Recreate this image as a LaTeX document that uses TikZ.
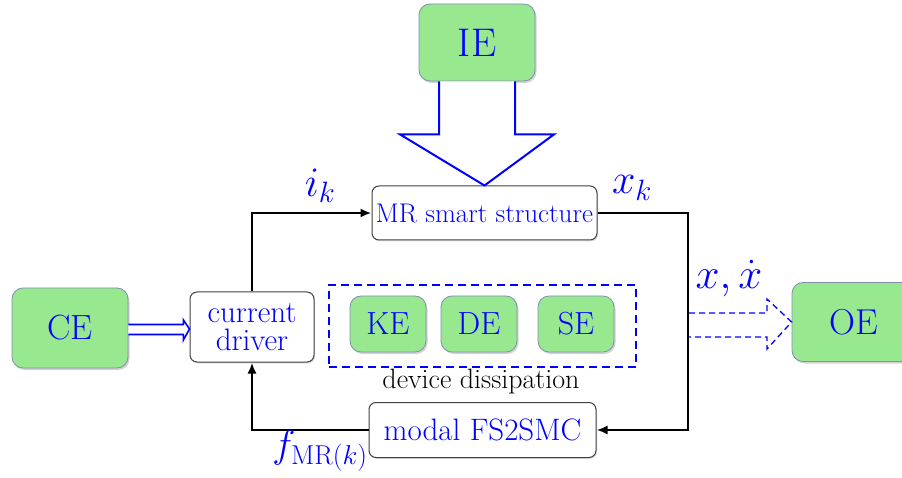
\RequirePackage{fix-cm}
\documentclass[tikz,border=0pt]{standalone}
\usepackage{fontspec}
\usetikzlibrary{shadows,arrows.meta,calc}
\definecolor{boxgreen}{RGB}{152,232,144}
\definecolor{boxedge}{RGB}{128,144,176}
\tikzset{
  energy/.style={draw=boxedge, fill=boxgreen, rounded corners=11pt, line width=0.8pt,
    drop shadow={shadow xshift=1.5pt, shadow yshift=-2pt, opacity=0.35},
    text=blue, font=\fontsize{33}{36}\selectfont, inner sep=0pt},
  proc/.style={draw=black!75, fill=white, rounded corners=7pt, line width=1pt,
    drop shadow={shadow xshift=1pt, shadow yshift=-1.5pt, opacity=0.25},
    text=blue, font=\fontsize{27}{29}\selectfont, inner sep=0pt, align=center},
  sig/.style={line width=2.2pt, -{Latex[length=11pt,width=9pt]}},
  lbl/.style={text=blue, font=\fontsize{42}{44}\selectfont},
}
\begin{document}
\begin{tikzpicture}[x=1pt,y=-1pt]
\useasboundingbox (0,0) rectangle (902,478);
% energy boxes
\node[energy, minimum width=116pt, minimum height=77pt, font=\fontsize{40}{44}\selectfont] (IE) at (477,42.5) {IE};
\node[energy, minimum width=116pt, minimum height=80pt, font=\fontsize{35}{38}\selectfont] (CE) at (70,328) {CE};
\node[energy, minimum width=124pt, minimum height=79pt, font=\fontsize{36}{38}\selectfont] (OE) at (854,322) {OE};
\node[energy, minimum width=76pt, minimum height=56pt, font=\fontsize{32}{34}\selectfont] (KE) at (388,324) {KE};
\node[energy, minimum width=76pt, minimum height=56pt, font=\fontsize{32}{34}\selectfont] (DE) at (479,324) {DE};
\node[energy, minimum width=76pt, minimum height=56pt, font=\fontsize{32}{34}\selectfont] (SE) at (576,324) {SE};
% processing boxes
\node[proc, minimum width=225pt, minimum height=54pt] (MR) at (484.5,213) {MR smart structure};
\node[proc, minimum width=124pt, minimum height=70pt, font=\fontsize{31}{28}\selectfont] (CD) at (252,327) {current\\driver};
\node[proc, minimum width=227pt, minimum height=55pt, font=\fontsize{31}{33}\selectfont] (MC) at (482.5,430) {modal FS2SMC};
% device dissipation frame
\node[draw=blue, dashed, dash pattern=on 8pt off 5pt, line width=1.8pt, minimum width=307pt, minimum height=82pt, inner sep=0pt] (DD) at (482.5,326) {};
\node[font=\fontsize{28}{30}\selectfont, inner sep=0pt] (DDL) at (481,382) {device dissipation};
% big arrow IE -> MR
\draw[blue, line width=2pt, fill=white, line join=miter]
  ($(IE.south)+(-38,0)$) -- ($(IE.south)+(-38,53)$) -- ($(IE.south)+(-77,53)$) -- (MR.north)
  -- ($(IE.south)+(77,53)$) -- ($(IE.south)+(38,53)$) -- ($(IE.south)+(38,0)$);
% CE -> current driver hollow arrow
\draw[blue, line width=1.6pt, fill=white]
  ($(CE.east)+(0,-3.5)$) -- ($(CE.east)+(55,-3.5)$) -- ($(CE.east)+(55,-8)$) -- ($(CD.west)+(0,2)$)
  -- ($(CE.east)+(55,12)$) -- ($(CE.east)+(55,6.5)$) -- ($(CE.east)+(0,6.5)$);
% signal lines
\coordinate (c1) at (CD.north |- MR.west);
\draw[sig] (CD.north) -- (c1) -- (MR.west);
\coordinate (c2) at (688,213);
\coordinate (c3) at (688,430);
\draw[sig] (MR.east) -- (c2) -- (c3) -- (MC.east);
\coordinate (c4) at (CD.south |- MC.west);
\draw[sig] (MC.west) -- (c4) -- (CD.south);
% dashed hollow output arrow
\coordinate (o1) at (689,313);
\draw[blue, line width=1.3pt, dashed, dash pattern=on 6pt off 4pt]
  (o1) -- (767,313) -- (767,299) -- (OE.west) -- (767,349) -- (767,337) -- (689,337);
% labels
\node[lbl] (ik) at (320,186) {$i_k$};
\node[lbl] (xk) at (632,188) {$x_k$};
\node[lbl, font=\fontsize{43}{45}\selectfont] (xx) at (729,279) {$x,\dot{x}$};
\node[lbl, font=\fontsize{39}{41}\selectfont] (fmr) at (320,451) {$f_{\mathrm{MR}(k)}$};
\end{tikzpicture}
\end{document}
